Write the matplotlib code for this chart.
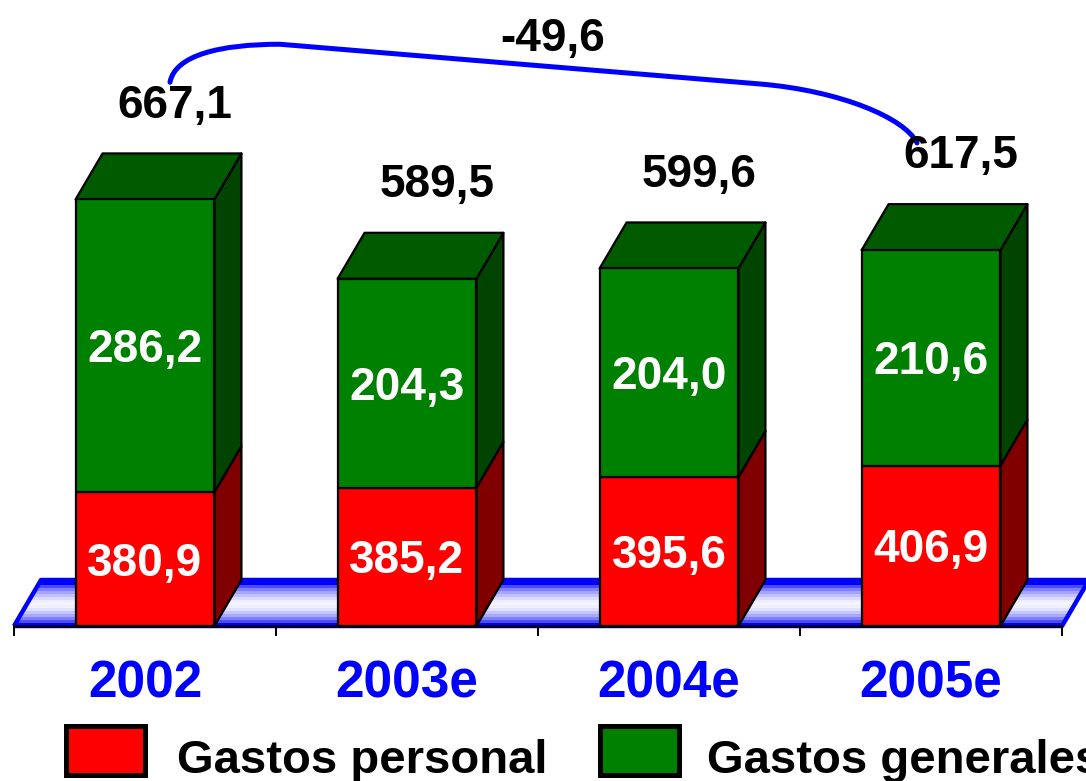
import numpy as np
import matplotlib
matplotlib.use("Agg")
import matplotlib.pyplot as plt
from matplotlib.patches import Polygon, Rectangle, PathPatch
from matplotlib.path import Path
from matplotlib.colors import ListedColormap

plt.rcParams["font.family"] = ["Liberation Sans", "DejaVu Sans"]

# ---- data -------------------------------------------------------------
years = ["2002", "2003e", "2004e", "2005e"]
gastos_personal = [380.9, 385.2, 395.6, 406.9]
gastos_generales = [286.2, 204.3, 204.0, 210.6]
legend_labels = ["Gastos personal", "Gastos generales"]

totals = [round(p + g, 1) for p, g in zip(gastos_personal, gastos_generales)]
change = round(totals[-1] - totals[0], 1)


def fmt(v):
    return f"{v:.1f}".replace(".", ",")


# ---- layout (pixel scale of the canvas) -------------------------------
W, H = 1086, 781
PX_PER_CAT = 262.0          # horizontal pixels per category
CAT0_PX = 145.0             # centre of first category
BASE = 250.0                # value axis starts here
BASE_PY = 626.0             # pixel row of the value-axis floor
PX_PER_UNIT = 1.0227        # vertical pixels per value unit

DX = 27 / PX_PER_CAT        # 3-D depth, horizontal
DY = 46 / PX_PER_UNIT       # 3-D depth, vertical
HALF_W = 0.265              # half width of a bar front


def px_x(dpx):
    return dpx / PX_PER_CAT


def px_v(dpx):
    return dpx / PX_PER_UNIT


fig = plt.figure(figsize=(W / 100, H / 100), dpi=100)
ax = fig.add_axes([0, 0, 1, 1])
ax.set_xlim(-CAT0_PX / PX_PER_CAT, (W - CAT0_PX) / PX_PER_CAT)
ax.set_ylim(BASE - (H - BASE_PY) / PX_PER_UNIT, BASE + BASE_PY / PX_PER_UNIT)
ax.axis("off")

n = len(years)
xs = np.arange(n)

# ---- floor with banded blue gradient ----------------------------------
fx0, fx1 = -0.5, n - 0.5
floor_pts = [(fx0, BASE), (fx1, BASE), (fx1 + DX, BASE + DY), (fx0 + DX, BASE + DY)]
band_vals = [0.0, 0.0, 0.30, 0.50, 0.65, 0.76, 0.86, 0.93, 0.96, 0.94, 0.88,
             0.78, 0.66, 0.50, 0.30, 0.0]
band_colors = [(v, v, 1.0) for v in band_vals]
grad = np.arange(len(band_vals)).reshape(-1, 1)
im = ax.imshow(grad, cmap=ListedColormap(band_colors), aspect="auto",
               interpolation="nearest",
               extent=(fx0, fx1 + DX, BASE, BASE + DY), origin="upper", zorder=1)
floor_poly = Polygon(floor_pts, closed=True, facecolor="none",
                     edgecolor="#0000ff", lw=3.2, zorder=2, joinstyle="round")
ax.add_patch(floor_poly)
im.set_clip_path(floor_poly)

# base line and category ticks
ax.plot([fx0, fx1], [BASE, BASE], color="black", lw=1.8, zorder=3,
        solid_capstyle="butt")
for tx in np.arange(n + 1) - 0.5:
    ax.plot([tx, tx], [BASE, BASE - px_v(9)], color="black", lw=1.4, zorder=3)

# ---- 3-D stacked bars --------------------------------------------------
RED, RED_SIDE = "#ff0000", "#800000"
GREEN, GREEN_SIDE, GREEN_TOP = "#008000", "#004400", "#005a00"
EDGE = dict(edgecolor="black", lw=1.6, joinstyle="round", zorder=4)

for i in xs:
    p, t = gastos_personal[i], totals[i]
    x0, x1 = i - HALF_W, i + HALF_W
    # side faces
    ax.add_patch(Polygon([(x1, BASE), (x1 + DX, BASE + DY), (x1 + DX, p + DY), (x1, p)],
                         facecolor=RED_SIDE, **EDGE))
    ax.add_patch(Polygon([(x1, p), (x1 + DX, p + DY), (x1 + DX, t + DY), (x1, t)],
                         facecolor=GREEN_SIDE, **EDGE))
    # top face
    ax.add_patch(Polygon([(x0, t), (x0 + DX, t + DY), (x1 + DX, t + DY), (x1, t)],
                         facecolor=GREEN_TOP, **EDGE))
    # front faces
    ax.add_patch(Rectangle((x0, BASE), x1 - x0, p - BASE, facecolor=RED, **EDGE))
    ax.add_patch(Rectangle((x0, p), x1 - x0, t - p, facecolor=GREEN, **EDGE))

    # segment labels (baseline placed half a cap height under the centre)
    half_cap = px_v(16.5)
    ax.text(i, (BASE + p) / 2 - half_cap, fmt(p), ha="center", va="baseline",
            color="white", fontsize=33, fontweight="bold", zorder=6)
    ax.text(i, (p + t) / 2 - half_cap, fmt(gastos_generales[i]), ha="center",
            va="baseline", color="white", fontsize=33, fontweight="bold", zorder=6)

    # total label above the bar
    ax.text(i + DX + px_x(3), t + 96 - half_cap, fmt(t), ha="center", va="baseline",
            color="black", fontsize=33, fontweight="bold", zorder=6)

    # category label
    ax.text(i, BASE - px_v(72), years[i], ha="center", va="baseline",
            color="#0000ff", fontsize=37, fontweight="bold", zorder=6)

# ---- connector between first and last totals ---------------------------
lab0 = (0 + DX, totals[0] + 96)
lab3 = (n - 1 + DX, totals[-1] + 96)
S = (lab0[0] + px_x(-2), lab0[1] + px_v(19))
E = (lab3[0] + px_x(-41), lab3[1] + px_v(9))
c1 = (S[0] + px_x(5), S[1] + px_v(27))
c2 = (S[0] + px_x(50), S[1] + px_v(38))
P1 = (S[0] + px_x(110), S[1] + px_v(38))
P2 = (E[0] + px_x(-157), E[1] + px_v(59))
c3 = (P2[0] + px_x(80), P2[1] - px_v(6.7))
c4 = (E[0] + px_x(-12), E[1] + px_v(25))
verts = [S, c1, c2, P1, P2, c3, c4, E]
codes = [Path.MOVETO, Path.CURVE4, Path.CURVE4, Path.CURVE4,
         Path.LINETO, Path.CURVE4, Path.CURVE4, Path.CURVE4]
ax.add_patch(PathPatch(Path(verts, codes), facecolor="none", edgecolor="#0000ff",
                       lw=3.6, capstyle="round", zorder=5))
ax.text((n - 1) / 2 + 0.057, BASE + px_v(626 - 51.5), fmt(change), ha="center",
        va="baseline", color="black", fontsize=33, fontweight="bold", zorder=6)

# ---- legend ------------------------------------------------------------
def fig_box(x0, y0, x1, y1):
    return (x0 / W, 1 - y1 / H), (x1 - x0) / W, (y1 - y0) / H


for (bx, tx), color, label in zip([(63, 177), (597, 707)], [RED, GREEN], legend_labels):
    xy, w, h = fig_box(bx + 2.5, 723 + 2.5, bx + 84 - 2.5, 777 - 2.5)
    fig.add_artist(Rectangle(xy, w, h, transform=fig.transFigure,
                             facecolor=color, edgecolor="black", lw=3.6))
    fig.text(tx / W, 1 - 773 / H, label, ha="left", va="baseline",
             fontsize=34, fontweight="bold", color="black")

fig.savefig("out.png", dpi=100)
